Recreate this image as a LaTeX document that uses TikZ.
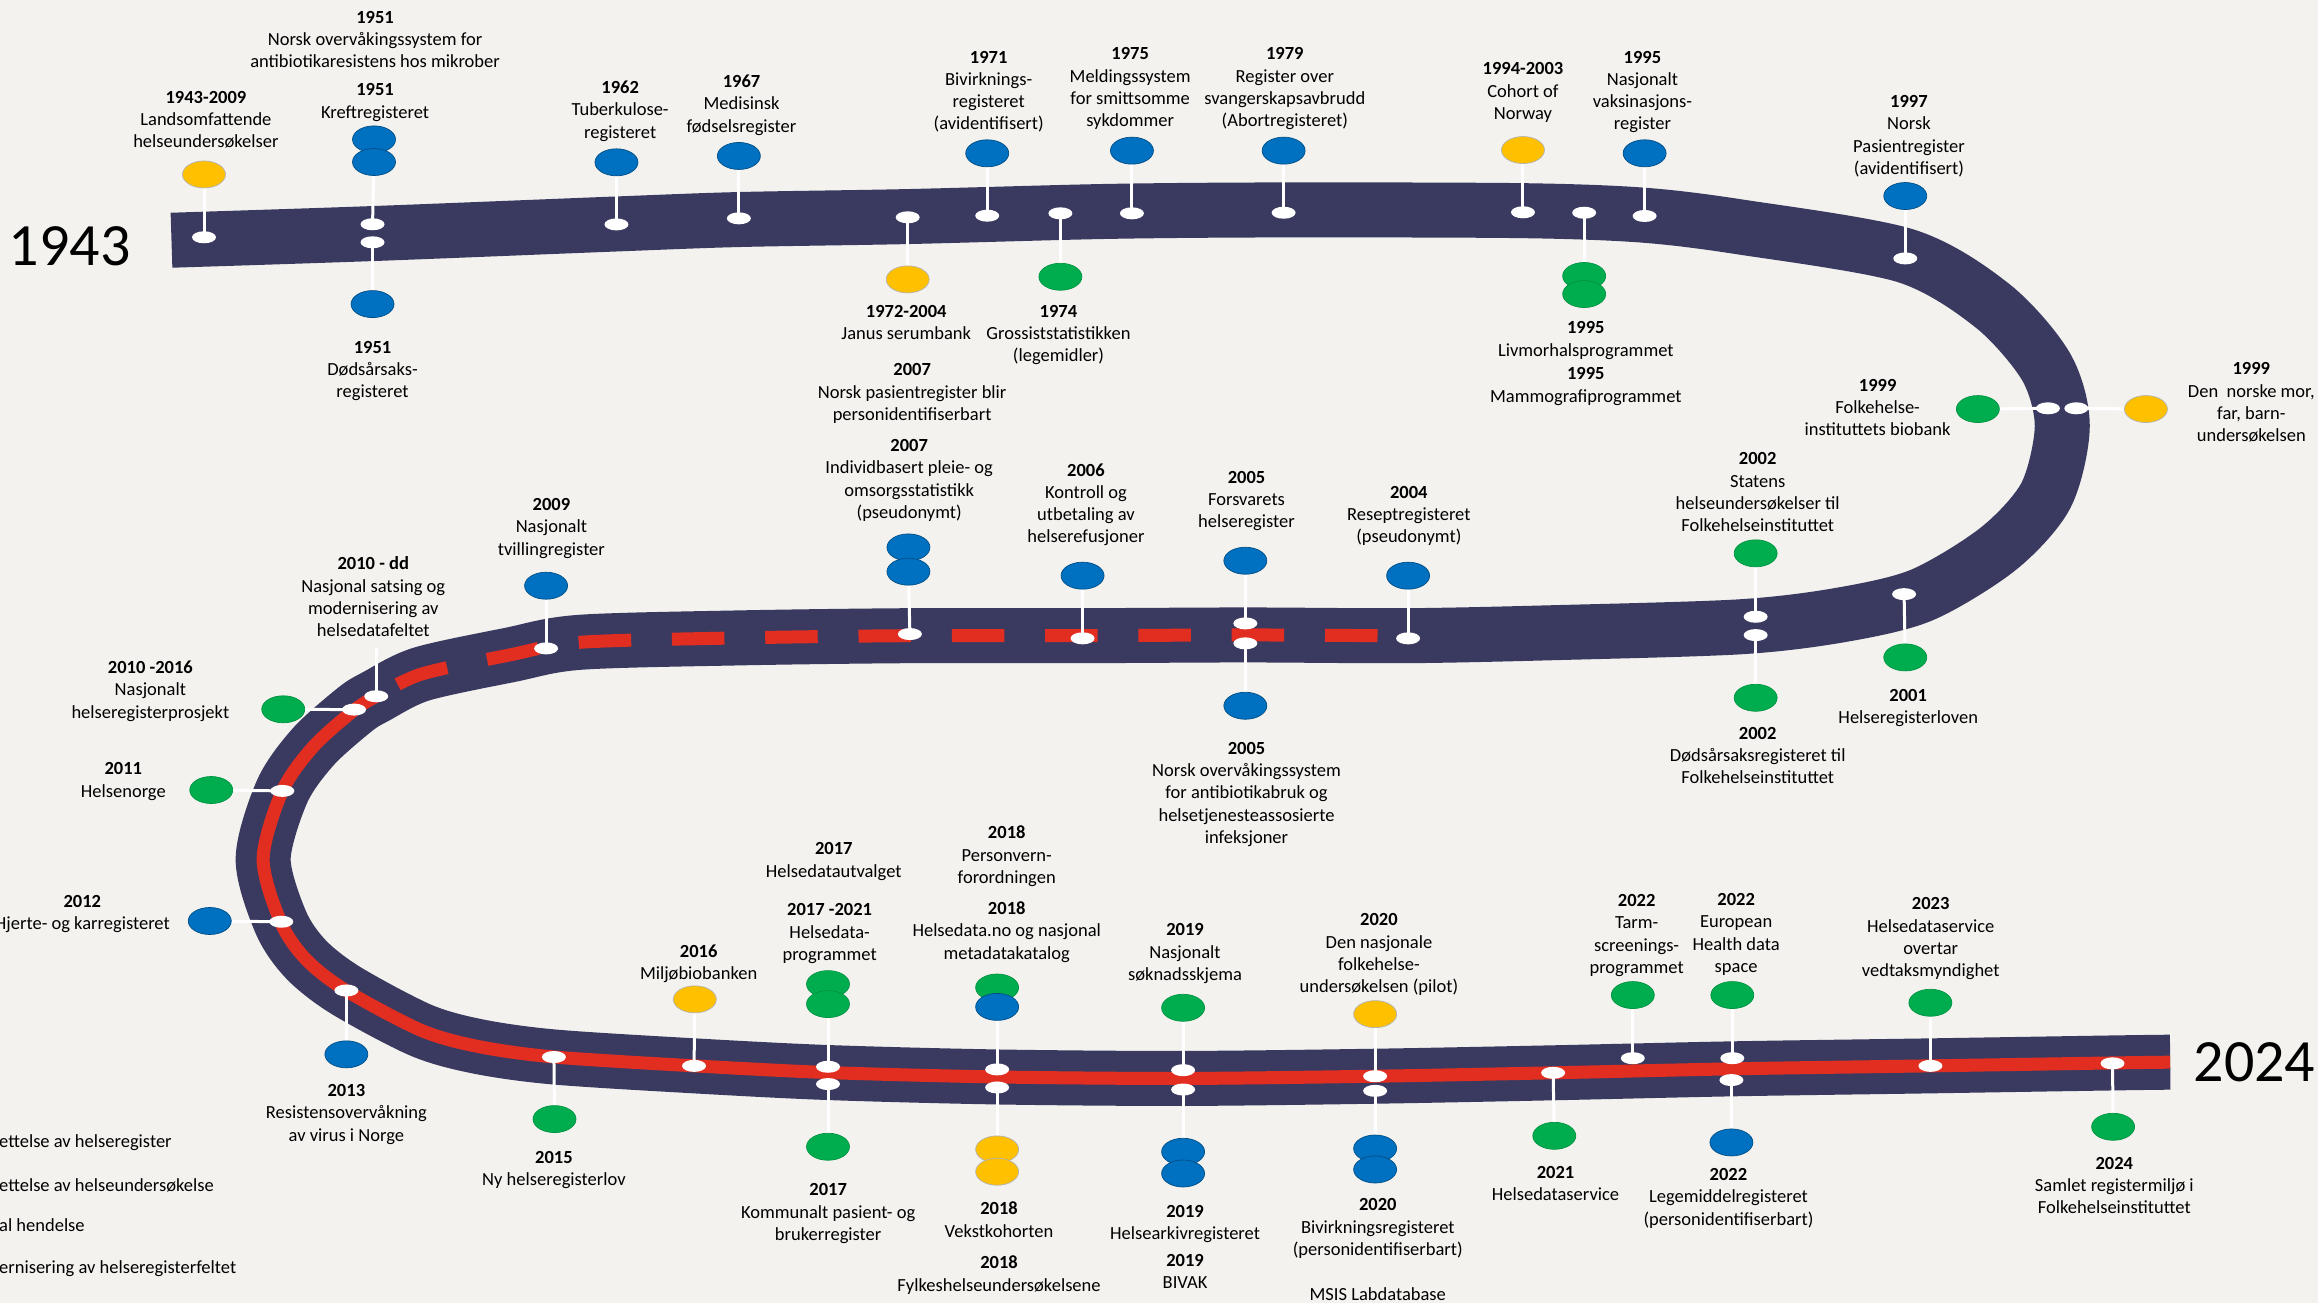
\documentclass[tikz,border=0pt]{standalone}
\usepackage{fontspec}
\setmainfont{Carlito}
\usetikzlibrary{shapes.geometric}
\definecolor{bg}{RGB}{243,242,238}
\definecolor{roadc}{RGB}{58,58,96}
\definecolor{redl}{RGB}{226,46,33}
\definecolor{cblue}{RGB}{0,112,192}
\definecolor{cgreen}{RGB}{0,173,78}
\definecolor{cyellow}{RGB}{255,192,0}
\pgfdeclarelayer{roadlayer}
\pgfdeclarelayer{stemlayer}
\pgfsetlayers{roadlayer,stemlayer,main}
\tikzset{
  wdot/.style={ellipse, fill=white, minimum width=24pt, minimum height=12pt, inner sep=0pt},
  blob/.style={ellipse, minimum width=43pt, minimum height=27pt, inner sep=0pt, line width=0.7pt},
  cb/.style={blob, fill=cblue, draw=cblue!70!black},
  cg/.style={blob, fill=cgreen, draw=cgreen!85!black},
  cy/.style={blob, fill=cyellow, draw=black!30},
  stem/.style={draw=white, line width=3pt},
  lbl/.style={align=center, anchor=north, yshift=5.9pt, inner sep=0pt, font=\fontsize{18.5}{22.3}\selectfont},
  lgd/.style={anchor=base west, inner sep=0pt, font=\fontsize{18.5}{22.3}\selectfont},
  big/.style={inner sep=0pt, font=\fontsize{60}{72}\selectfont}
}
\begin{document}
\begin{tikzpicture}[x=1.4783163pt,y=-1.4783163pt]
\useasboundingbox (0,0) rectangle (1568,881.4);
\begin{pgfonlayer}{roadlayer}
\fill[bg] (0,0) rectangle (1568,881.4);
\draw[roadc, line width=55pt] plot[smooth] coordinates {
 (116,162.5) (252,158) (417,151.5) (500,148.5) (614,146.5) (750,143) (868,142)
 (1030,142.5) (1111,145.5) (1177,153.5) (1289,173) (1348,207) (1384,248) (1395,288)
 (1384,335) (1352,371) (1300,402.5) (1245,416) (1177,424) (1050,428) (952,430)
 (843,429.5) (732,430) (615,430) (500,431.5) (392,434.5) (345,443) (285,456)
 (254.5,471) (240,480) (212,505) (191,535) (178,581) (190,624) (207,649) (234,670)
 (285,697) (324,708) (375,715) (470,721) (560,725.5) (675,728.5) (800,729.5)
 (930,728) (1050,725.7) (1172,723) (1305,721) (1430,719) (1468,718.5)};
\draw[redl, line width=13pt, dash pattern=on 52.5pt off 40.8pt] plot[smooth] coordinates {
 (931.8,430) (843,429.5) (732,430) (615,430) (500,431.5) (392,434.5) (345,443)
 (285,456) (254.5,471)};
\draw[redl, line width=13pt] plot[smooth] coordinates {
 (254.5,471) (240,480) (212,505) (191,535) (178,581) (190,624) (207,649) (234,670)
 (285,697) (324,708) (375,715) (470,721) (560,725.5) (675,728.5) (800,729.5)
 (930,728) (1050,725.7) (1172,723) (1305,721) (1430,719) (1468,718.5)};
\end{pgfonlayer}

% big years
\node[big] (n1943) at (47.2,166.3) {1943};
\node[big] (n2024) at (1525,718.7) {2024};

% dots and circles: top segment
\node[wdot] (d1943) at (138,160.5) {};
\node[cy] (c1943) at (138,118) {};
\node[wdot] (d1951a) at (252,151.7) {};
\node[wdot] (d1951b) at (252,163.9) {};
\node[cb] (c1951a) at (253,94.3) {};
\node[cb] (c1951b) at (253,109.6) {};
\node[cb] (c1951c) at (252,205.7) {};
\node[wdot] (d1962) at (417,151.8) {};
\node[cb] (c1962) at (417,109.8) {};
\node[wdot] (d1967) at (499.8,147.7) {};
\node[cb] (c1967) at (499.8,105.5) {};
\node[wdot] (d1971) at (667.8,145.9) {};
\node[cb] (c1971) at (667.8,103.7) {};
\node[wdot] (d1972) at (614,147) {};
\node[cy] (c1972) at (614,189) {};
\node[wdot] (d1974) at (717.3,144.3) {};
\node[cg] (c1974) at (717.3,187.2) {};
\node[wdot] (d1975) at (765.7,144.3) {};
\node[cb] (c1975) at (765.7,101.9) {};
\node[wdot] (d1979) at (868.3,143.9) {};
\node[cb] (c1979) at (868.3,101.9) {};
\node[wdot] (d1994) at (1030.2,143.6) {};
\node[cy] (c1994) at (1030.2,101.5) {};
\node[wdot] (d1995a) at (1071.6,143.9) {};
\node[cg] (c1995a) at (1071.6,186.7) {};
\node[cg] (c1995b) at (1071.6,198.9) {};
\node[wdot] (d1995b) at (1112.5,146.1) {};
\node[cb] (c1995c) at (1112.5,103.7) {};
\node[wdot] (d1997) at (1288.8,174.8) {};
\node[cb] (c1997) at (1288.8,132.6) {};
\node[wdot] (d1999a) at (1385.3,276.2) {};
\node[wdot] (d1999b) at (1404.5,276.2) {};
\node[cg] (c1999a) at (1337.9,276.7) {};
\node[cy] (c1999b) at (1451.6,276.7) {};
% middle segment
\node[wdot] (d2001) at (1288,401.9) {};
\node[cg] (c2001) at (1288.8,444.7) {};
\node[wdot] (d2002a) at (1187.6,417.2) {};
\node[wdot] (d2002b) at (1187.6,429.6) {};
\node[cg] (c2002a) at (1187.6,374.3) {};
\node[cg] (c2002b) at (1187.6,472) {};
\node[wdot] (d2004) at (952.5,431.8) {};
\node[cb] (c2004) at (952.5,389.4) {};
\node[wdot] (d2005a) at (842.4,421.7) {};
\node[wdot] (d2005b) at (842.4,435.2) {};
\node[cb] (c2005a) at (842.4,379.3) {};
\node[cb] (c2005b) at (842.4,477.4) {};
\node[wdot] (d2006) at (732.3,431.8) {};
\node[cb] (c2006) at (732.3,389.4) {};
\node[wdot] (d2007) at (615.5,428.9) {};
\node[cb] (c2007a) at (614.5,370.3) {};
\node[cb] (c2007b) at (614.5,386.7) {};
\node[wdot] (d2009) at (369.4,438.6) {};
\node[cb] (c2009) at (369.4,396.2) {};
\node[wdot] (d2010a) at (254.5,471) {};
\coordinate (t2010) at (254.5,438.6);
\node[wdot] (d2010b) at (239.5,480) {};
\node[cg] (c2010) at (191.6,479.8) {};
\node[wdot] (d2011) at (191,535) {};
\node[cg] (c2011) at (142.9,534.4) {};
\node[wdot] (d2012) at (190.3,623.5) {};
\node[cb] (c2012) at (141.9,623) {};
\node[wdot] (d2013) at (234.3,670) {};
\node[cb] (c2013) at (234.3,713.2) {};
\node[wdot] (d2015) at (374.7,715) {};
\node[cg] (c2015) at (375.1,757) {};
% bottom segment
\node[wdot] (d2016) at (469.5,721) {};
\node[cy] (c2016) at (470,676) {};
\node[wdot] (d2017a) at (560.1,721.6) {};
\node[wdot] (d2017b) at (560.1,733.3) {};
\node[cg] (c2017a) at (560.1,665.7) {};
\node[cg] (c2017b) at (560.1,679.2) {};
\node[cg] (c2017c) at (560.1,775.7) {};
\node[wdot] (d2018a) at (674.5,723.4) {};
\node[wdot] (d2018b) at (674.5,735.6) {};
\node[cg] (c2018a) at (674.5,668) {};
\node[cb] (c2018b) at (674.5,681.1) {};
\node[cy] (c2018c) at (674.5,777.5) {};
\node[cy] (c2018d) at (674.5,792.6) {};
\node[wdot] (d2019a) at (800.3,723.9) {};
\node[wdot] (d2019b) at (800.3,737) {};
\node[cg] (c2019a) at (800.3,681.7) {};
\node[cb] (c2019b) at (800.3,779.1) {};
\node[cb] (c2019c) at (800.3,793.8) {};
\node[wdot] (d2020a) at (930.2,728) {};
\node[wdot] (d2020b) at (930.2,737.9) {};
\node[cy] (c2020a) at (930.2,686) {};
\node[cb] (c2020b) at (930.2,776.9) {};
\node[cb] (c2020c) at (930.2,791.1) {};
\node[wdot] (d2021) at (1050.6,725.7) {};
\node[cg] (c2021) at (1051.4,768.3) {};
\node[wdot] (d2022a) at (1104.5,715.8) {};
\node[cg] (c2022a) at (1104.5,673.1) {};
\node[wdot] (d2022b) at (1171.8,715.8) {};
\node[wdot] (d2022c) at (1171.2,730.6) {};
\node[cg] (c2022b) at (1171.8,673.1) {};
\node[cb] (c2022c) at (1171.2,772.8) {};
\node[wdot] (d2023) at (1305.8,721) {};
\node[cg] (c2023) at (1305.8,678.3) {};
\node[wdot] (d2024) at (1429,719.3) {};
\node[cg] (c2024) at (1429.4,762.2) {};

\begin{pgfonlayer}{stemlayer}
\foreach \a/\b in {d1943/c1943, d1951a/c1951b, d1951b/c1951c, d1962/c1962, d1967/c1967,
  d1971/c1971, d1972/c1972, d1974/c1974, d1975/c1975, d1979/c1979, d1994/c1994,
  d1995a/c1995a, d1995b/c1995c, d1997/c1997, d1999a/c1999a, d1999b/c1999b,
  d2001/c2001, d2002a/c2002a, d2002b/c2002b, d2004/c2004, d2005a/c2005a, d2005b/c2005b,
  d2006/c2006, d2007/c2007b, d2009/c2009, d2010a/t2010, d2010b/c2010, d2011/c2011,
  d2012/c2012, d2013/c2013, d2015/c2015, d2016/c2016, d2017a/c2017b, d2017b/c2017c,
  d2018a/c2018b, d2018b/c2018c, d2019a/c2019a, d2019b/c2019b, d2020a/c2020a,
  d2020b/c2020b, d2021/c2021, d2022a/c2022a, d2022b/c2022b, d2022c/c2022c,
  d2023/c2023, d2024/c2024}
  \draw[stem] (\a.center) -- (\b.center);
\end{pgfonlayer}

% labels
\node[lbl] (l1943) at (139.3,65.4) {\textbf{1943-2009}\\Landsomfattende\\helseundersøkelser};
\node[lbl] (l1951a) at (253.7,11.3) {\textbf{1951}\\Norsk overvåkingssystem for\\antibiotikaresistens hos mikrober};
\node[lbl] (l1951b) at (253.7,60.4) {\textbf{1951}\\Kreftregisteret};
\node[lbl] (l1951c) at (252,234.5) {\textbf{1951}\\Dødsårsaks-\\registeret};
\node[lbl] (l1962) at (419.5,58.6) {\textbf{1962}\\Tuberkulose-\\registeret};
\node[lbl] (l1967) at (501.6,54.6) {\textbf{1967}\\Medisinsk\\fødselsregister};
\node[lbl] (l1971) at (668.8,38.3) {\textbf{1971}\\Bivirknings-\\registeret\\(avidentifisert)};
\node[lbl] (l1975) at (764.5,36.1) {\textbf{1975}\\Meldingssystem\\for smittsomme\\sykdommer};
\node[lbl] (l1979) at (869.1,36.1) {\textbf{1979}\\Register over\\svangerskapsavbrudd\\(Abortregisteret)};
\node[lbl] (l1972) at (613,210.2) {\textbf{1972-2004}\\Janus serumbank};
\node[lbl] (l1974) at (716,210.2) {\textbf{1974}\\Grossiststatistikken\\(legemidler)};
\node[lbl] (l1994) at (1030.2,46.2) {\textbf{1994-2003}\\Cohort of\\Norway};
\node[lbl] (l1995a) at (1072.7,221.4) {\textbf{1995}\\Livmorhalsprogrammet};
\node[lbl] (l1995b) at (1072.7,252.6) {\textbf{1995}\\Mammografiprogrammet};
\node[lbl] (l1995c) at (1111,38.3) {\textbf{1995}\\Nasjonalt\\vaksinasjons-\\register};
\node[lbl] (l1997) at (1291.3,68.3) {\textbf{1997}\\Norsk\\Pasientregister\\(avidentifisert)};
\node[lbl] (l1999a) at (1270.1,260.4) {\textbf{1999}\\Folkehelse-\\instituttets biobank};
\node[lbl] (l1999b) at (1522.9,249.2) {\textbf{1999}\\Den\ \ norske mor,\\far, barn-\\undersøkelsen};
\node[lbl] (l2001) at (1290.8,470.2) {\textbf{2001}\\Helseregisterloven};
\node[lbl] (l2002a) at (1189,310) {\textbf{2002}\\Statens\\helseundersøkelser til\\Folkehelseinstituttet};
\node[lbl] (l2002b) at (1189,495.6) {\textbf{2002}\\Dødsårsaksregisteret til\\Folkehelseinstituttet};
\node[lbl] (l2004) at (953,332.6) {\textbf{2004}\\Reseptregisteret\\(pseudonymt)};
\node[lbl] (l2005a) at (843.2,322.5) {\textbf{2005}\\Forsvarets\\helseregister};
\node[lbl] (l2005b) at (843.2,505.8) {\textbf{2005}\\Norsk overvåkingssystem\\for antibiotikabruk og\\helsetjenesteassosierte\\infeksjoner};
\node[lbl] (l2006) at (734.6,317.3) {\textbf{2006}\\Kontroll og\\utbetaling av\\helserefusjoner};
\node[lbl] (l2007a) at (617,249.9) {\textbf{2007}\\Norsk pasientregister blir\\personidentifiserbart};
\node[lbl] (l2007b) at (615,301) {\textbf{2007}\\Individbasert pleie- og\\omsorgsstatistikk\\(pseudonymt)};
\node[lbl] (l2009) at (373,341) {\textbf{2009}\\Nasjonalt\\tvillingregister};
\node[lbl] (l2010a) at (252.5,380.6) {\textbf{2010 - dd}\\Nasjonal satsing og\\modernisering av\\helsedatafeltet};
\node[lbl] (l2010b) at (101.7,451) {\textbf{2010 -2016}\\Nasjonalt\\helseregisterprosjekt};
\node[lbl] (l2011) at (83.4,519.8) {\textbf{2011}\\Helsenorge};
\node[lbl] (l2012) at (55.7,609.3) {\textbf{2012}\\Hjerte- og karregisteret};
\node[lbl] (l2013) at (234.3,737.4) {\textbf{2013}\\Resistensovervåkning\\av virus i Norge};
\node[lbl] (l2015) at (374.7,782.5) {\textbf{2015}\\Ny helseregisterlov};
\node[lbl] (l2016) at (472.6,642.7) {\textbf{2016}\\Miljøbiobanken};
\node[lbl] (l2017a) at (564,574) {\textbf{2017}\\Helsedatautvalget};
\node[lbl] (l2017b) at (561.2,615.2) {\textbf{2017 -2021}\\Helsedata-\\programmet};
\node[lbl] (l2017c) at (560.2,804.6) {\textbf{2017}\\Kommunalt pasient- og\\brukerregister};
\node[lbl] (l2018a) at (681,562.6) {\textbf{2018}\\Personvern-\\forordningen};
\node[lbl] (l2018b) at (681,613.8) {\textbf{2018}\\Helsedata.no og nasjonal\\metadatakatalog};
\node[lbl] (l2018c) at (675.8,817) {\textbf{2018}\\Vekstkohorten};
\node[lbl] (l2018d) at (675.8,853.5) {\textbf{2018}\\Fylkeshelseundersøkelsene};
\node[lbl] (l2019a) at (801.6,628.7) {\textbf{2019}\\Nasjonalt\\søknadsskjema};
\node[lbl] (l2019b) at (801.6,819) {\textbf{2019}\\Helsearkivregisteret};
\node[lbl] (l2019c) at (801.6,852.4) {\textbf{2019}\\BIVAK};
\node[lbl] (l2020a) at (932.8,622) {\textbf{2020}\\Den nasjonale\\folkehelse-\\undersøkelsen (pilot)};
\node[lbl] (l2020b) at (932,814.7) {\textbf{2020}\\Bivirkningsregisteret\\(personidentifiserbart)};
\node[inner sep=0pt, anchor=base, font=\fontsize{18.5}{22.3}\selectfont] (l2020c) at (932,879.6) {MSIS Labdatabase};
\node[lbl] (l2021) at (1052.2,792.6) {\textbf{2021}\\Helsedataservice};
\node[lbl] (l2022a) at (1107.1,608.9) {\textbf{2022}\\Tarm-\\screenings-\\programmet};
\node[lbl] (l2022b) at (1174.4,608.2) {\textbf{2022}\\European\\Health data\\space};
\node[lbl] (l2022c) at (1169.2,794.2) {\textbf{2022}\\Legemiddelregisteret\\(personidentifiserbart)};
\node[lbl] (l2023) at (1306,611.1) {\textbf{2023}\\Helsedataservice\\overtar\\vedtaksmyndighet};
\node[lbl] (l2024) at (1430.2,786.5) {\textbf{2024}\\Samlet registermiljø i\\Folkehelseinstituttet};

% partial legend
\node[lgd] (g1) at (-0.7,776.2) {ettelse av helseregister};
\node[lgd] (g2) at (-0.7,806) {ettelse av helseundersøkelse};
\node[lgd] (g3) at (-0.7,833) {al hendelse};
\node[lgd] (g4) at (-0.7,861.5) {ernisering av helseregisterfeltet};
\end{tikzpicture}
\end{document}
